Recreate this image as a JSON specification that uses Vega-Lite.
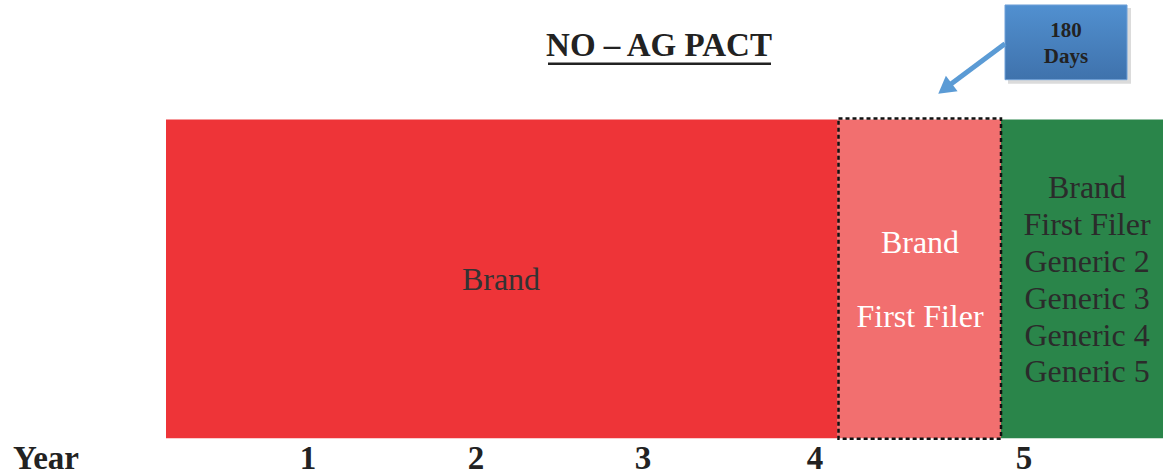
{
  "$schema": "https://vega.github.io/schema/vega-lite/v6.json",
  "width": 1163,
  "height": 476,
  "autosize": {"type": "fit", "contains": "padding"},
  "padding": 0,
  "background": "white",
  "view": {"stroke": null},
  "config": {"text": {"font": "Liberation Serif"}},
  "layer": [
    {
      "data": {"values": [
        {"seg": "Brand", "x0": 166, "x1": 837, "y0": 120, "y1": 440, "c": "#EE3438"},
        {"seg": "Brand + First Filer", "x0": 837, "x1": 1001, "y0": 120, "y1": 440, "c": "#F26F6F"},
        {"seg": "All", "x0": 1001, "x1": 1163, "y0": 120, "y1": 440, "c": "#2A854A"}
      ]},
      "mark": {"type": "rect"},
      "encoding": {
        "x": {"field": "x0", "type": "quantitative", "scale": {"domain": [0, 1163], "nice": false, "zero": false}, "axis": null},
        "x2": {"field": "x1"},
        "y": {"field": "y0", "type": "quantitative", "scale": {"domain": [0, 476], "reverse": true, "nice": false, "zero": false}, "axis": null},
        "y2": {"field": "y1"},
        "color": {"field": "c", "type": "nominal", "scale": null, "legend": null}
      }
    },
    {
      "data": {"values": [{"x0": 838.5, "x1": 1001, "y0": 119, "y1": 440.5}]},
      "mark": {"type": "rect", "fill": null, "stroke": "#111", "strokeWidth": 2.5, "strokeDash": [4, 3]},
      "encoding": {
        "x": {"field": "x0", "type": "quantitative"},
        "x2": {"field": "x1"},
        "y": {"field": "y0", "type": "quantitative"},
        "y2": {"field": "y1"}
      }
    },
    {
      "data": {"values": [
        {"t": "Brand", "x": 501, "y": 281, "c": "#333333"},
        {"t": "Brand", "x": 920, "y": 244, "c": "#FFFFFF"},
        {"t": "First Filer", "x": 920, "y": 318, "c": "#FFFFFF"},
        {"t": "Brand", "x": 1087, "y": 189, "c": "#2b2b2b"},
        {"t": "First Filer", "x": 1087, "y": 226, "c": "#2b2b2b"},
        {"t": "Generic 2", "x": 1087, "y": 263, "c": "#2b2b2b"},
        {"t": "Generic 3", "x": 1087, "y": 300, "c": "#2b2b2b"},
        {"t": "Generic 4", "x": 1087, "y": 337, "c": "#2b2b2b"},
        {"t": "Generic 5", "x": 1087, "y": 374, "c": "#2b2b2b"}
      ]},
      "mark": {"type": "text", "fontSize": 32, "align": "center", "baseline": "middle"},
      "encoding": {
        "x": {"field": "x", "type": "quantitative"},
        "y": {"field": "y", "type": "quantitative"},
        "text": {"field": "t"},
        "color": {"field": "c", "type": "nominal", "scale": null, "legend": null}
      }
    },
    {
      "data": {"values": [
        {"t": "Year", "x": 46, "y": 461},
        {"t": "1", "x": 308, "y": 461},
        {"t": "2", "x": 476, "y": 461},
        {"t": "3", "x": 643, "y": 461},
        {"t": "4", "x": 815, "y": 461},
        {"t": "5", "x": 1024, "y": 461},
        {"t": "NO – AG PACT", "x": 659, "y": 46}
      ]},
      "mark": {"type": "text", "fontSize": 33, "fontWeight": "bold", "align": "center", "baseline": "middle", "color": "#222222"},
      "encoding": {
        "x": {"field": "x", "type": "quantitative"},
        "y": {"field": "y", "type": "quantitative"},
        "text": {"field": "t"}
      }
    },
    {
      "data": {"values": [{"x0": 548, "x1": 771, "y": 64}]},
      "mark": {"type": "rule", "strokeWidth": 2.5, "color": "#222222"},
      "encoding": {
        "x": {"field": "x0", "type": "quantitative"},
        "x2": {"field": "x1"},
        "y": {"field": "y", "type": "quantitative"}
      }
    },
    {
      "data": {"values": [{"x0": 1008, "x1": 1131, "y0": 8, "y1": 84}]},
      "mark": {"type": "rect", "color": "#888888", "opacity": 0.3},
      "encoding": {
        "x": {"field": "x0", "type": "quantitative"},
        "x2": {"field": "x1"},
        "y": {"field": "y0", "type": "quantitative"},
        "y2": {"field": "y1"}
      }
    },
    {
      "data": {"values": [{"x0": 1005, "x1": 1127, "y0": 5, "y1": 80}]},
      "mark": {
        "type": "rect",
        "stroke": "#6FA0D8",
        "strokeWidth": 1,
        "fill": {
          "gradient": "linear", "x1": 0, "y1": 0, "x2": 0, "y2": 1,
          "stops": [{"offset": 0, "color": "#5190D0"}, {"offset": 1, "color": "#3F72AC"}]
        }
      },
      "encoding": {
        "x": {"field": "x0", "type": "quantitative"},
        "x2": {"field": "x1"},
        "y": {"field": "y0", "type": "quantitative"},
        "y2": {"field": "y1"}
      }
    },
    {
      "data": {"values": [
        {"t": "180", "x": 1066, "y": 31},
        {"t": "Days", "x": 1066, "y": 57}
      ]},
      "mark": {"type": "text", "fontSize": 21, "fontWeight": "bold", "align": "center", "baseline": "middle", "color": "#222222"},
      "encoding": {
        "x": {"field": "x", "type": "quantitative"},
        "y": {"field": "y", "type": "quantitative"},
        "text": {"field": "t"}
      }
    },
    {
      "data": {"values": [{"x": 1005, "y": 44, "o": 0}, {"x": 950, "y": 85, "o": 1}]},
      "mark": {"type": "line", "strokeWidth": 5, "color": "#5B9BD5"},
      "encoding": {
        "x": {"field": "x", "type": "quantitative"},
        "y": {"field": "y", "type": "quantitative"},
        "order": {"field": "o"}
      }
    },
    {
      "data": {"values": [{"x": 945, "y": 89}]},
      "mark": {"type": "point", "shape": "triangle-up", "filled": true, "size": 380, "angle": 233, "color": "#5B9BD5", "opacity": 1},
      "encoding": {
        "x": {"field": "x", "type": "quantitative"},
        "y": {"field": "y", "type": "quantitative"}
      }
    }
  ]
}
